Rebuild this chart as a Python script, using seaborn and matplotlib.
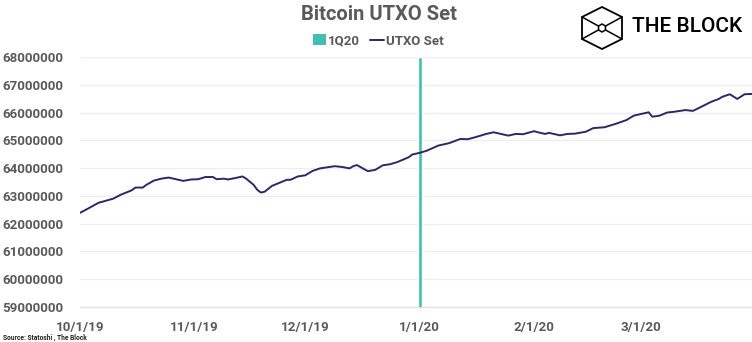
import matplotlib
matplotlib.use("Agg")
import matplotlib.pyplot as plt
from matplotlib.ticker import FuncFormatter, MultipleLocator
from matplotlib.patches import Patch, Polygon
from matplotlib.lines import Line2D
import numpy as np
import pandas as pd
import seaborn as sns

# ---- data ----
dates = ["2019-10-01", "2019-10-03", "2019-10-06", "2019-10-10", "2019-10-12", "2019-10-15",
         "2019-10-16", "2019-10-18", "2019-10-19", "2019-10-21", "2019-10-23", "2019-10-25",
         "2019-10-27", "2019-10-29", "2019-10-31", "2019-11-02", "2019-11-04", "2019-11-06",
         "2019-11-07", "2019-11-09", "2019-11-10", "2019-11-12", "2019-11-14", "2019-11-15",
         "2019-11-17", "2019-11-18", "2019-11-19", "2019-11-20", "2019-11-22", "2019-11-26",
         "2019-11-27", "2019-11-29", "2019-12-01", "2019-12-03", "2019-12-05", "2019-12-07",
         "2019-12-09", "2019-12-11", "2019-12-13", "2019-12-14", "2019-12-15", "2019-12-17",
         "2019-12-18", "2019-12-20", "2019-12-22", "2019-12-24", "2019-12-26", "2019-12-29",
         "2019-12-30", "2020-01-01", "2020-01-03", "2020-01-06", "2020-01-08", "2020-01-09",
         "2020-01-12", "2020-01-14", "2020-01-16", "2020-01-19", "2020-01-21", "2020-01-23",
         "2020-01-25", "2020-01-27", "2020-01-29", "2020-02-01", "2020-02-02", "2020-02-04",
         "2020-02-05", "2020-02-08", "2020-02-10", "2020-02-12", "2020-02-15", "2020-02-17",
         "2020-02-20", "2020-02-23", "2020-02-26", "2020-02-28", "2020-03-03", "2020-03-04",
         "2020-03-06", "2020-03-08", "2020-03-10", "2020-03-13", "2020-03-15", "2020-03-17",
         "2020-03-20", "2020-03-22", "2020-03-23", "2020-03-25", "2020-03-27", "2020-03-29",
         "2020-03-31"]
utxo_set = [62390000, 62530000, 62750000, 62900000, 63040000, 63200000,
            63300000, 63300000, 63400000, 63550000, 63620000, 63660000,
            63600000, 63540000, 63590000, 63600000, 63680000, 63680000,
            63600000, 63620000, 63590000, 63640000, 63700000, 63620000,
            63400000, 63220000, 63120000, 63150000, 63360000, 63580000,
            63580000, 63700000, 63740000, 63900000, 63990000, 64030000,
            64070000, 64040000, 63990000, 64070000, 64110000, 63960000,
            63890000, 63940000, 64100000, 64140000, 64220000, 64390000,
            64490000, 64550000, 64630000, 64810000, 64870000, 64900000,
            65050000, 65040000, 65110000, 65230000, 65290000, 65230000,
            65170000, 65230000, 65220000, 65330000, 65290000, 65230000,
            65270000, 65180000, 65230000, 65240000, 65310000, 65440000,
            65470000, 65590000, 65730000, 65890000, 66010000, 65850000,
            65890000, 66000000, 66030000, 66090000, 66060000, 66190000,
            66390000, 66490000, 66570000, 66660000, 66490000, 66660000,
            66670000]
quarter_label = "1Q20"
quarter_date = "2020-01-01"
quarter_value = 68000000
series_label = "UTXO Set"
title = "Bitcoin UTXO Set"
source = "Source: Statoshi , The Block"
x_ticks = ["2019-10-01", "2019-11-01", "2019-12-01", "2020-01-01", "2020-02-01", "2020-03-01"]
x_tick_labels = ["10/1/19", "11/1/19", "12/1/19", "1/1/20", "2/1/20", "3/1/20"]

df = pd.DataFrame({"date": pd.to_datetime(dates), "value": utxo_set})

# ---- style ----
sns.set_theme(style="white")
plt.rcParams["font.family"] = ["Roboto", "DejaVu Sans"]

LINE_C = "#2d2866"
TEAL = "#41bfb1"
GRAY_TXT = "#5a5a5a"
GRID_C = "#eeeeee"

fig = plt.figure(figsize=(7.52, 3.42), dpi=100)
ax = fig.add_axes([80 / 752, 1 - 307 / 342, 672 / 752, 250 / 342])

ax.bar(pd.to_datetime([quarter_date]), [quarter_value], width=1.15,
       color=TEAL, zorder=3, label=quarter_label)
sns.lineplot(data=df, x="date", y="value", ax=ax, color=LINE_C, linewidth=1.4,
             zorder=4, legend=False)

ax.set_ylim(59000000, 68000000)
ax.set_xlim(pd.Timestamp("2019-10-01"), pd.Timestamp("2020-03-31"))
ax.yaxis.set_major_locator(MultipleLocator(1000000))
ax.yaxis.set_major_formatter(FuncFormatter(lambda v, p: f"{int(round(v))}"))
ax.set_xticks(pd.to_datetime(x_ticks))
ax.set_xticklabels(x_tick_labels)
ax.set_xlabel("")
ax.set_ylabel("")

ax.grid(axis="y", color=GRID_C, linewidth=1.0, zorder=0)
ax.grid(axis="x", visible=False)
for s in ["top", "right", "left"]:
    ax.spines[s].set_visible(False)
ax.spines["bottom"].set_color("#e2e2e2")
ax.spines["bottom"].set_linewidth(1.0)

ax.tick_params(axis="y", length=0, pad=12, labelsize=9.6, labelcolor=GRAY_TXT)
ax.tick_params(axis="x", length=5, width=1, color="#e2e2e2", pad=5,
               labelsize=9.6, labelcolor=GRAY_TXT, direction="out")
for lab in ax.get_yticklabels() + ax.get_xticklabels():
    lab.set_fontweight("semibold")

# legend
handles = [Patch(facecolor=TEAL, edgecolor="none", label=quarter_label),
           Line2D([0], [0], color=LINE_C, linewidth=1.4, label=series_label)]
leg = fig.legend(handles=handles, loc="center", bbox_to_anchor=(378 / 752, 1 - 41 / 342),
                 ncol=2, frameon=False, fontsize=9.5, handlelength=1.0, handleheight=0.9,
                 handletextpad=0.15, columnspacing=0.8)
for t in leg.get_texts():
    t.set_color(GRAY_TXT)
    t.set_fontweight("semibold")

# title
fig.text(379 / 752, 1 - 14 / 342, title, ha="center", va="center", fontsize=14.5,
         fontweight="bold", color=GRAY_TXT)

# source
fig.text(3 / 752, 1 - 337.5 / 342, source, ha="left", va="center", fontsize=4.8,
         fontweight="bold", color="#222222")

# logo
lx = fig.add_axes([576 / 752, 1 - 50 / 342, 52 / 752, 48 / 342])
lx.set_xlim(0, 52)
lx.set_ylim(48, 0)
lx.axis("off")
cx, cy = 26, 26
hexpts = [(26, 5), (46, 15), (46, 37), (26, 47), (6, 37), (6, 15)]
lx.add_patch(Polygon(hexpts, closed=True, fill=False, edgecolor="black", linewidth=1.3))
r = 4
small = [(cx + r * np.cos(a), cy + r * np.sin(a)) for a in np.deg2rad(np.arange(-90, 270, 60))]
lx.add_patch(Polygon(small, closed=True, fill=False, edgecolor="black", linewidth=1.1))
for (px, py) in [(6, 15), (46, 15), (6, 37), (46, 37)]:
    dx, dy = cx - px, cy - py
    d = np.hypot(dx, dy)
    lx.plot([px, cx - dx / d * r], [py, cy - dy / d * r], color="black", linewidth=1.1)
fig.text(632 / 752, 1 - 26 / 342, "THE BLOCK", ha="left", va="center", fontsize=15,
         fontweight="medium", color="black")

fig.savefig("out.png", dpi=100)
